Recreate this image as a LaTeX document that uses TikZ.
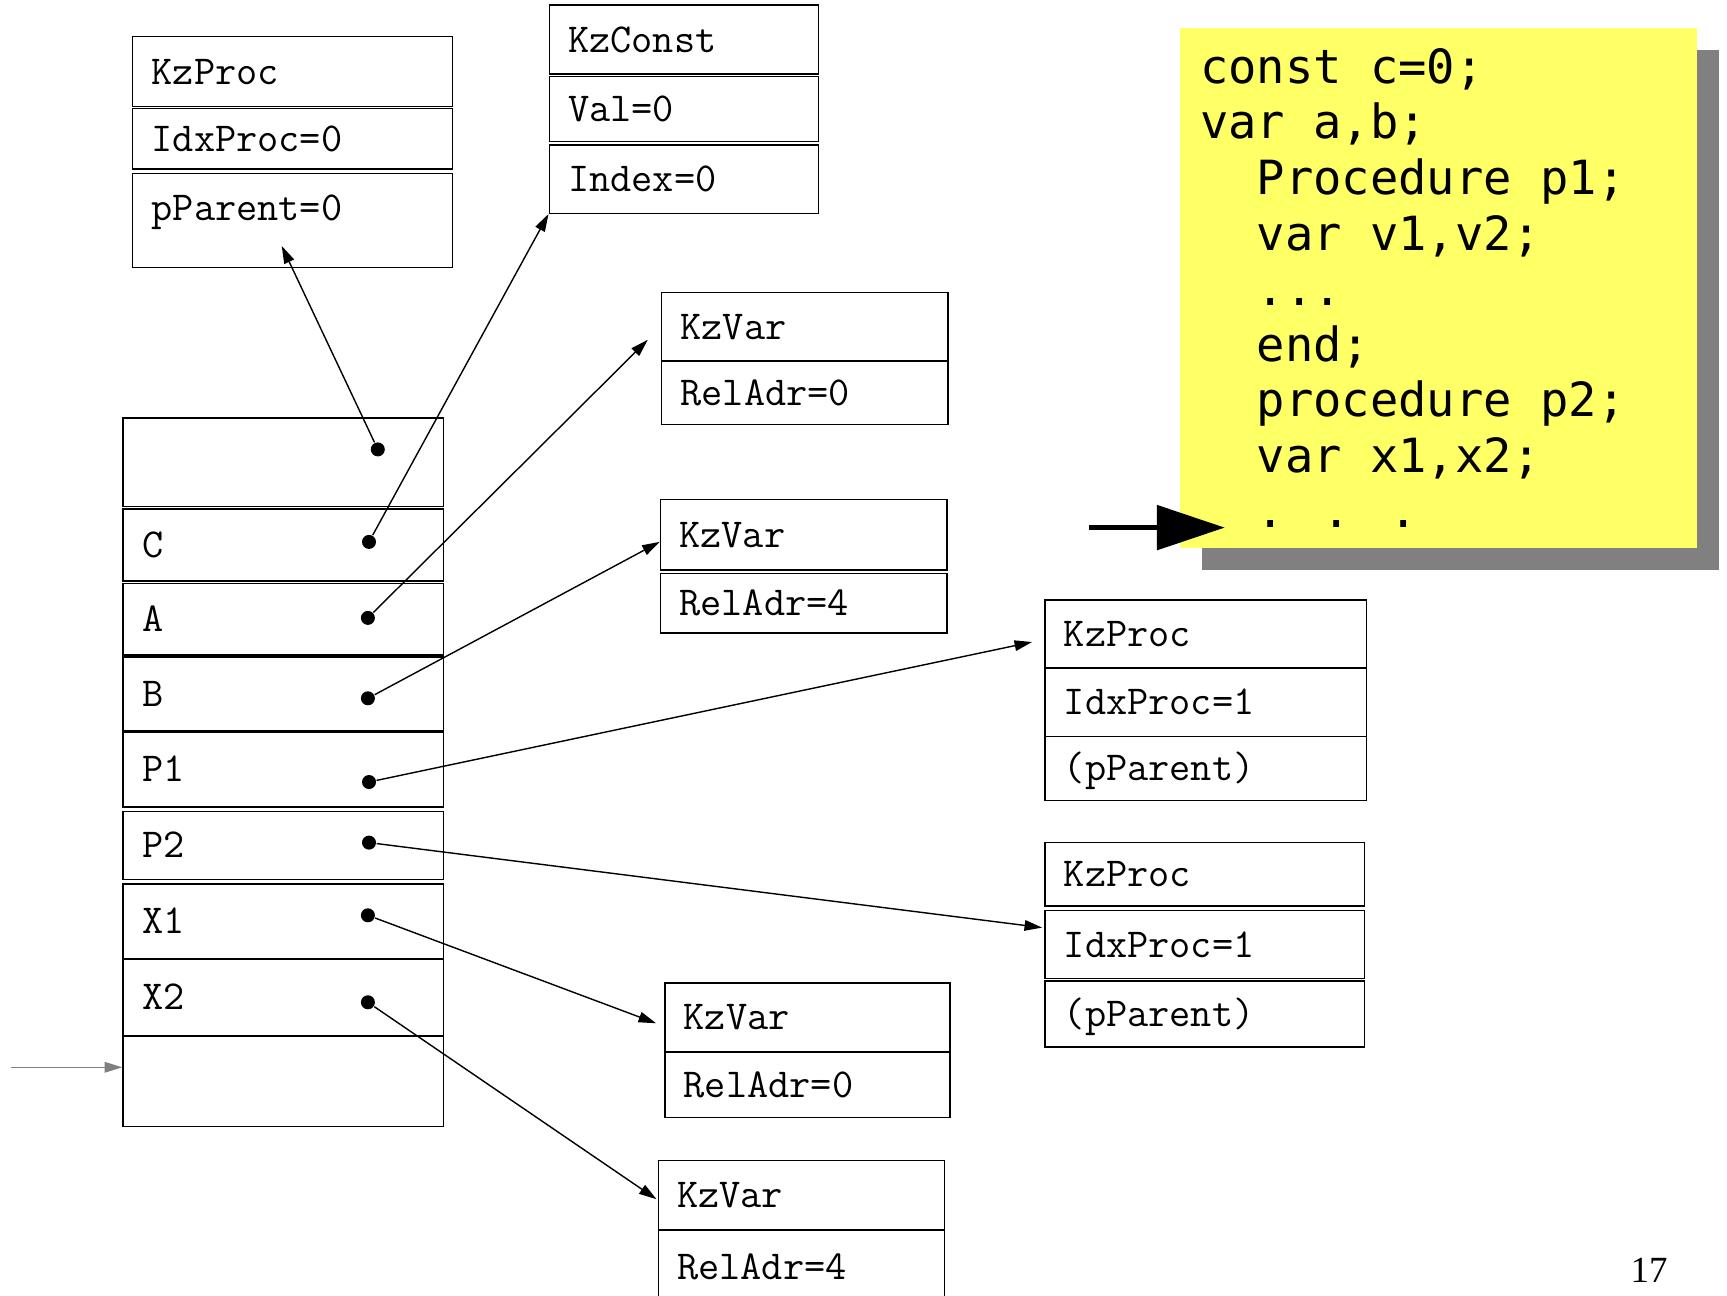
\documentclass[tikz,border=0pt]{standalone}
\usepackage{fontspec}
\newfontfamily\codefont{DejaVu Sans Mono}
\newfontfamily\numfont{Liberation Serif}
\usepackage{tikz}
\usetikzlibrary{arrows.meta,positioning,calc,shadows}
\definecolor{notefill}{RGB}{255,255,102}
\definecolor{noteshadow}{RGB}{128,128,128}
\tikzset{
  fld/.style={draw, line width=0.4pt, anchor=north west, inner xsep=0.19cm, inner ysep=0pt,
    text width=#1, align=left, text height=0.25cm, text depth=0pt,
    font=\ttfamily\fontsize{11.7pt}{13.5pt}\selectfont},
  ptr/.style={-{Triangle[length=5pt,width=3pt]}, line width=0.4pt},
  ptdot/.style={circle, fill, inner sep=0pt, minimum size=0.14cm},
  notebox/.style={fill=notefill, anchor=north west, minimum width=5.17cm, minimum height=5.2cm,
    inner sep=0pt, drop shadow={shadow xshift=0.22cm, shadow yshift=-0.22cm, fill=noteshadow, opacity=1}},
  code/.style={font=\codefont\fontsize{13.4pt}{15.8pt}\selectfont, align=left, inner sep=0pt}
}

\begin{document}
\begin{tikzpicture}[>=Latex]
\useasboundingbox (0,0) rectangle (17.27,12.95);

% parent procedure
\node[fld=2.82cm, minimum height=0.70cm] (pk1) at (1.32,12.59) {KzProc};
\node[fld=2.82cm, minimum height=0.605cm] (pk2) at (1.32,11.87) {IdxProc=0};
\node[fld=2.82cm, minimum height=0.935cm, text depth=0.25cm] (pk3) at (1.32,11.22) {pParent=0};

% constant
\node[fld=2.31cm, minimum height=0.69cm] (kc1) at (5.485,12.906) {KzConst};
\node[fld=2.31cm, minimum height=0.65cm] (kc2) at (5.485,12.19) {Val=0};
\node[fld=2.31cm, minimum height=0.683cm] (kc3) at (5.485,11.507) {Index=0};

% variables a, b
\node[fld=2.484cm, minimum height=0.683cm] (v1a) at (6.608,10.031) {KzVar};
\node[fld=2.484cm, minimum height=0.638cm] (v1b) at (6.608,9.348) {RelAdr=0};
\node[fld=2.484cm, minimum height=0.705cm] (v2a) at (6.597,7.961) {KzVar};
\node[fld=2.484cm, minimum height=0.595cm] (v2b) at (6.597,7.223) {RelAdr=4};

% variables x1, x2
\node[fld=2.473cm, minimum height=0.683cm] (v3a) at (6.641,3.126) {KzVar};
\node[fld=2.473cm, minimum height=0.65cm] (v3b) at (6.641,2.432) {RelAdr=0};
\node[fld=2.484cm, minimum height=0.694cm] (v4a) at (6.575,1.352) {KzVar};
\node[fld=2.484cm, minimum height=0.75cm] (v4b) at (6.575,0.658) {RelAdr=4};

% procedures p1, p2
\node[fld=2.836cm, minimum height=0.682cm] (pr1a) at (10.441,6.958) {KzProc};
\node[fld=2.836cm, minimum height=0.683cm] (pr1b) at (10.441,6.276) {IdxProc=1};
\node[fld=2.836cm, minimum height=0.639cm] (pr1c) at (10.441,5.593) {(pParent)};
\node[fld=2.814cm, minimum height=0.639cm] (pr2a) at (10.441,4.535) {KzProc};
\node[fld=2.814cm, minimum height=0.682cm] (pr2b) at (10.441,3.852) {IdxProc=1};
\node[fld=2.814cm, minimum height=0.661cm] (pr2c) at (10.441,3.148) {(pParent)};

% name list
\node[fld=2.825cm, minimum height=0.886cm] (s0) at (1.223,8.776) {};
\node[fld=2.825cm, minimum height=0.722cm] (sC) at (1.223,7.868) {C};
\node[fld=2.825cm, minimum height=0.716cm] (sA) at (1.223,7.124) {A};
\node[fld=2.825cm, minimum height=0.738cm] (sB) at (1.223,6.386) {B};
\node[fld=2.825cm, minimum height=0.749cm] (sP1) at (1.223,5.637) {P1};
\node[fld=2.825cm, minimum height=0.683cm] (sP2) at (1.223,4.844) {P2};
\node[fld=2.825cm, minimum height=0.749cm] (sX1) at (1.223,4.117) {X1};
\node[fld=2.825cm, minimum height=0.771cm] (sX2) at (1.223,3.368) {X2};
\node[fld=2.825cm, minimum height=0.903cm] (s1) at (1.223,2.597) {};

% pointer dots
\node[ptdot] (d0) at (3.778,8.456) {};
\node[ptdot] (dC) at (3.69,7.531) {};
\node[ptdot] (dA) at (3.679,6.771) {};
\node[ptdot] (dB) at (3.679,5.967) {};
\node[ptdot] (dP1) at (3.69,5.13) {};
\node[ptdot] (dP2) at (3.69,4.524) {};
\node[ptdot] (dX1) at (3.679,3.797) {};
\node[ptdot] (dX2) at (3.679,2.927) {};

% pointers
\draw[ptr] (d0) -- ($(pk3.south)+(-0.11,0.22)$);
\draw[ptr] (dC) -- (kc3.south west);
\draw[ptr] (dA) -- ($(v1a.west)+(-0.13,-0.13)$);
\draw[ptr] (dB) -- ($(v2a.west)+(0,-0.07)$);
\draw[ptr] (dP1) -- ($(pr1a.west)+(-0.12,-0.08)$);
\draw[ptr] (dP2) -- ($(pr2b.west)+(-0.02,0.17)$);
\draw[ptr] (dX1) -- ($(v3a.west)+(-0.08,-0.06)$);
\draw[ptr] (dX2) -- ($(v4a.west)+(-0.01,-0.04)$);

% entry into the list
\coordinate (entry) at (0.11,2.277);
\draw[ptr, draw=gray] (entry) -- (entry -| s1.west);

% source text
\node[notebox] (note) at (11.796,12.675) {};
\node[code, anchor=base west] (lst) at (11.994,7.673) {const c=0;\\
var a,b;\\
\phantom{xx}Procedure p1;\\
\phantom{xx}var v1,v2;\\
\phantom{xx}...\\
\phantom{xx}end;\\
\phantom{xx}procedure p2;\\
\phantom{xx}var x1,x2;\\
\phantom{xx}. . .};

% current position
\coordinate (cursor) at (10.893,7.674);
\draw[line width=1.6pt, -{Triangle[length=0.68cm,width=0.44cm]}] (cursor) -- ++(1.355,0);

% page number
\node[font=\numfont\fontsize{10.5pt}{12pt}\selectfont] (pgno) at (16.49,0.25) {17};

\end{tikzpicture}
\end{document}
